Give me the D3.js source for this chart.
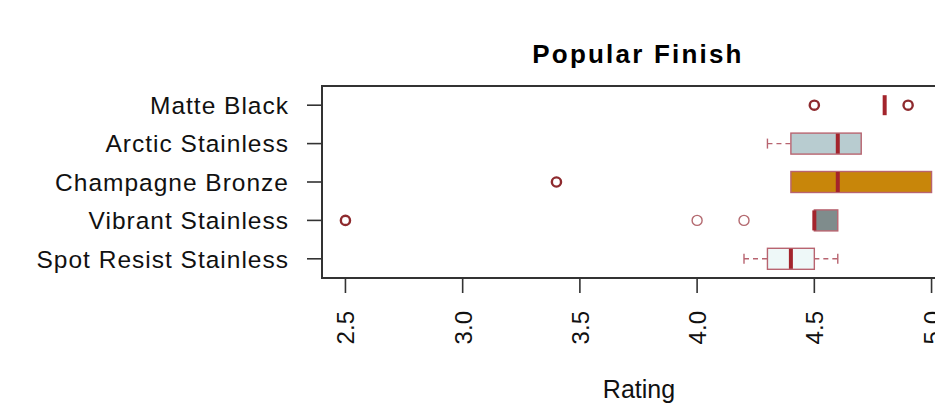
<!DOCTYPE html>
<html>
<head>
<meta charset="utf-8">
<script src="https://cdn.jsdelivr.net/npm/d3@7"></script>
<style>
  html, body { margin: 0; padding: 0; background: #fff; }
  svg { display: block; font-family: "Liberation Sans", Arial, sans-serif; }
</style>
</head>
<body>
<svg id="chart" width="935" height="404"></svg>
<script>
// Rating distribution per finish (bottom to top order of the plot)
const categories = ["Spot Resist Stainless", "Vibrant Stainless", "Champagne Bronze", "Arctic Stainless", "Matte Black"];
const whiskerLow  = [4.2, 4.5, 4.4, 4.3, 4.8];
const q1          = [4.3, 4.5, 4.4, 4.4, 4.8];
const median      = [4.4, 4.5, 4.6, 4.6, 4.8];
const q3          = [4.5, 4.6, 5.0, 4.7, 4.8];
const whiskerHigh = [4.6, 4.6, 5.0, 4.7, 4.8];
const outliers    = [[], [2.5, 4.0, 4.2], [3.4], [], [4.5, 4.9]];
const fills       = ["#eef8f8", "#7f8c8c", "#c8860a", "#b8ccd0", "#ffffff"];
const xTicks      = [2.5, 3.0, 3.5, 4.0, 4.5, 5.0];

const svg = d3.select("#chart");
const plotL = 322, plotR = 955, plotT = 86, plotB = 278;

const x = d3.scaleLinear().domain([2.4, 5.1]).range([plotL, plotR]);
const y = d3.scaleLinear().domain([0.5, 5.5]).range([plotB, plotT]);
const boxH = 21;

// title
svg.append("text")
  .attr("x", 638).attr("y", 63)
  .attr("text-anchor", "middle")
  .attr("font-size", 26).attr("font-weight", "bold")
  .attr("letter-spacing", 2.2)
  .text("Popular Finish");

// boxes
const g = svg.append("g");
categories.forEach((c, i) => {
  const cy = y(i + 1);
  const border = "#b86470";
  // whiskers (dashed)
  if (whiskerLow[i] < q1[i]) {
    g.append("line").attr("x1", x(whiskerLow[i])).attr("x2", x(q1[i]))
      .attr("y1", cy).attr("y2", cy).attr("stroke", border).attr("stroke-width", 1.4)
      .attr("stroke-dasharray", "5,4");
    g.append("line").attr("x1", x(whiskerLow[i])).attr("x2", x(whiskerLow[i]))
      .attr("y1", cy - 5).attr("y2", cy + 5).attr("stroke", border).attr("stroke-width", 1.4);
  }
  if (whiskerHigh[i] > q3[i]) {
    g.append("line").attr("x1", x(q3[i])).attr("x2", x(whiskerHigh[i]))
      .attr("y1", cy).attr("y2", cy).attr("stroke", border).attr("stroke-width", 1.4)
      .attr("stroke-dasharray", "5,4");
    g.append("line").attr("x1", x(whiskerHigh[i])).attr("x2", x(whiskerHigh[i]))
      .attr("y1", cy - 5).attr("y2", cy + 5).attr("stroke", border).attr("stroke-width", 1.4);
  }
  // box
  if (q3[i] > q1[i]) {
    g.append("rect")
      .attr("x", x(q1[i])).attr("y", cy - boxH / 2)
      .attr("width", x(q3[i]) - x(q1[i])).attr("height", boxH)
      .attr("fill", fills[i]).attr("stroke", border).attr("stroke-width", 1.4);
  }
  // median
  g.append("line")
    .attr("x1", x(median[i])).attr("x2", x(median[i]))
    .attr("y1", cy - boxH / 2 + 0.5).attr("y2", cy + boxH / 2 - 0.5)
    .attr("stroke", "#a3242c").attr("stroke-width", 4);
  // outliers
  outliers[i].forEach(v => {
    const strong = !(i === 1 && v > 3);
    g.append("circle")
      .attr("cx", x(v)).attr("cy", cy).attr("r", strong ? 4.6 : 5)
      .attr("fill", "none")
      .attr("stroke", strong ? "#8e2a2e" : "#b46a70")
      .attr("stroke-width", strong ? 2.4 : 1.4);
  });
});

// frame
svg.append("rect")
  .attr("x", plotL).attr("y", plotT)
  .attr("width", plotR - plotL).attr("height", plotB - plotT)
  .attr("fill", "none").attr("stroke", "#333").attr("stroke-width", 2);

// y axis
const yAxis = svg.append("g");
categories.forEach((c, i) => {
  const cy = y(i + 1);
  yAxis.append("line").attr("x1", plotL - 15).attr("x2", plotL)
    .attr("y1", cy).attr("y2", cy).attr("stroke", "#333").attr("stroke-width", 1.6);
  yAxis.append("text")
    .attr("x", 289).attr("y", cy)
    .attr("dy", "0.36em")
    .attr("text-anchor", "end")
    .attr("font-size", 24.5).attr("fill", "#111")
    .attr("letter-spacing", 1)
    .text(c);
});

// x axis
const xAxis = svg.append("g");
xTicks.forEach(t => {
  xAxis.append("line").attr("x1", x(t)).attr("x2", x(t))
    .attr("y1", plotB).attr("y2", plotB + 15)
    .attr("stroke", "#333").attr("stroke-width", 1.6);
  xAxis.append("text")
    .attr("transform", `translate(${x(t) + 9},${plotB + 33}) rotate(-90)`)
    .attr("text-anchor", "end")
    .attr("font-size", 24).attr("fill", "#111")
    .text(t.toFixed(1));
});

svg.append("text")
  .attr("x", 639).attr("y", 398)
  .attr("text-anchor", "middle")
  .attr("font-size", 25).attr("fill", "#111")
  .text("Rating");
</script>
</body>
</html>
